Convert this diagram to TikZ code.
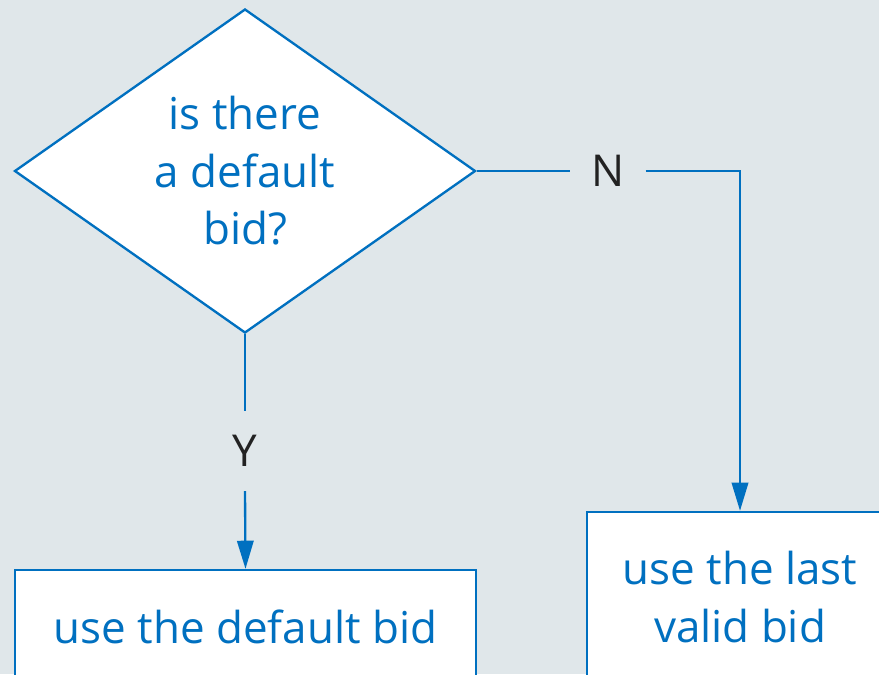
\documentclass[tikz,border=0pt]{standalone}
\usepackage{fontspec}
\setmainfont{Open Sans}
\usetikzlibrary{shapes.geometric,arrows.meta}
\definecolor{fondgris}{HTML}{E0E7EA}
\definecolor{bleu}{HTML}{0070C0}
\definecolor{encre}{HTML}{222222}
\tikzset{
  boite/.style={draw=bleu, fill=white, line width=2pt, text=bleu, align=center, inner sep=0pt},
  lettre/.style={text=encre, inner sep=0pt},
  fleche/.style={draw=bleu, line width=2pt, -{Triangle[length=24pt,width=14pt]}},
  trait/.style={draw=bleu, line width=2pt}
}
\begin{document}
\begin{tikzpicture}[x=0.03cm,y=-0.03cm,font=\fontsize{37.5}{49}\selectfont]
  \pgfmathsetmacro{\unite}{0.03}
  \pgfmathsetmacro{\larg}{879}
  \pgfmathsetmacro{\haut}{674}
  \fill[fondgris] (0,0) rectangle (\larg,\haut);
  \useasboundingbox (0,0) rectangle (\larg,\haut);
  \clip (0,0) rectangle (\larg,\haut);
  % decision
  \node[boite, diamond, aspect=1.42, minimum width=461*\unite cm, minimum height=324*\unite cm] (question) at (245,171) {is there\\a default\\bid?};
  % answers
  \node[boite, minimum width=461*\unite cm, minimum height=114*\unite cm] (defaut) at (245.5,627) {use the default bid};
  \node[boite, minimum width=306*\unite cm, minimum height=170*\unite cm] (derniere) at (740,597) {use the last\\valid bid};
  % labels
  \node[lettre, minimum height=80*\unite cm] (oui) at (245,451) {Y};
  \node[lettre, minimum width=75*\unite cm] (non) at (608,171) {N};
  \draw[trait] (question.south) -- (oui.north);
  \draw[fleche] (oui.south) -- (defaut.north);
  \draw[trait] (question.east) -- (non.west);
  \draw[fleche] (non.east) -| (derniere.north);
\end{tikzpicture}
\end{document}
